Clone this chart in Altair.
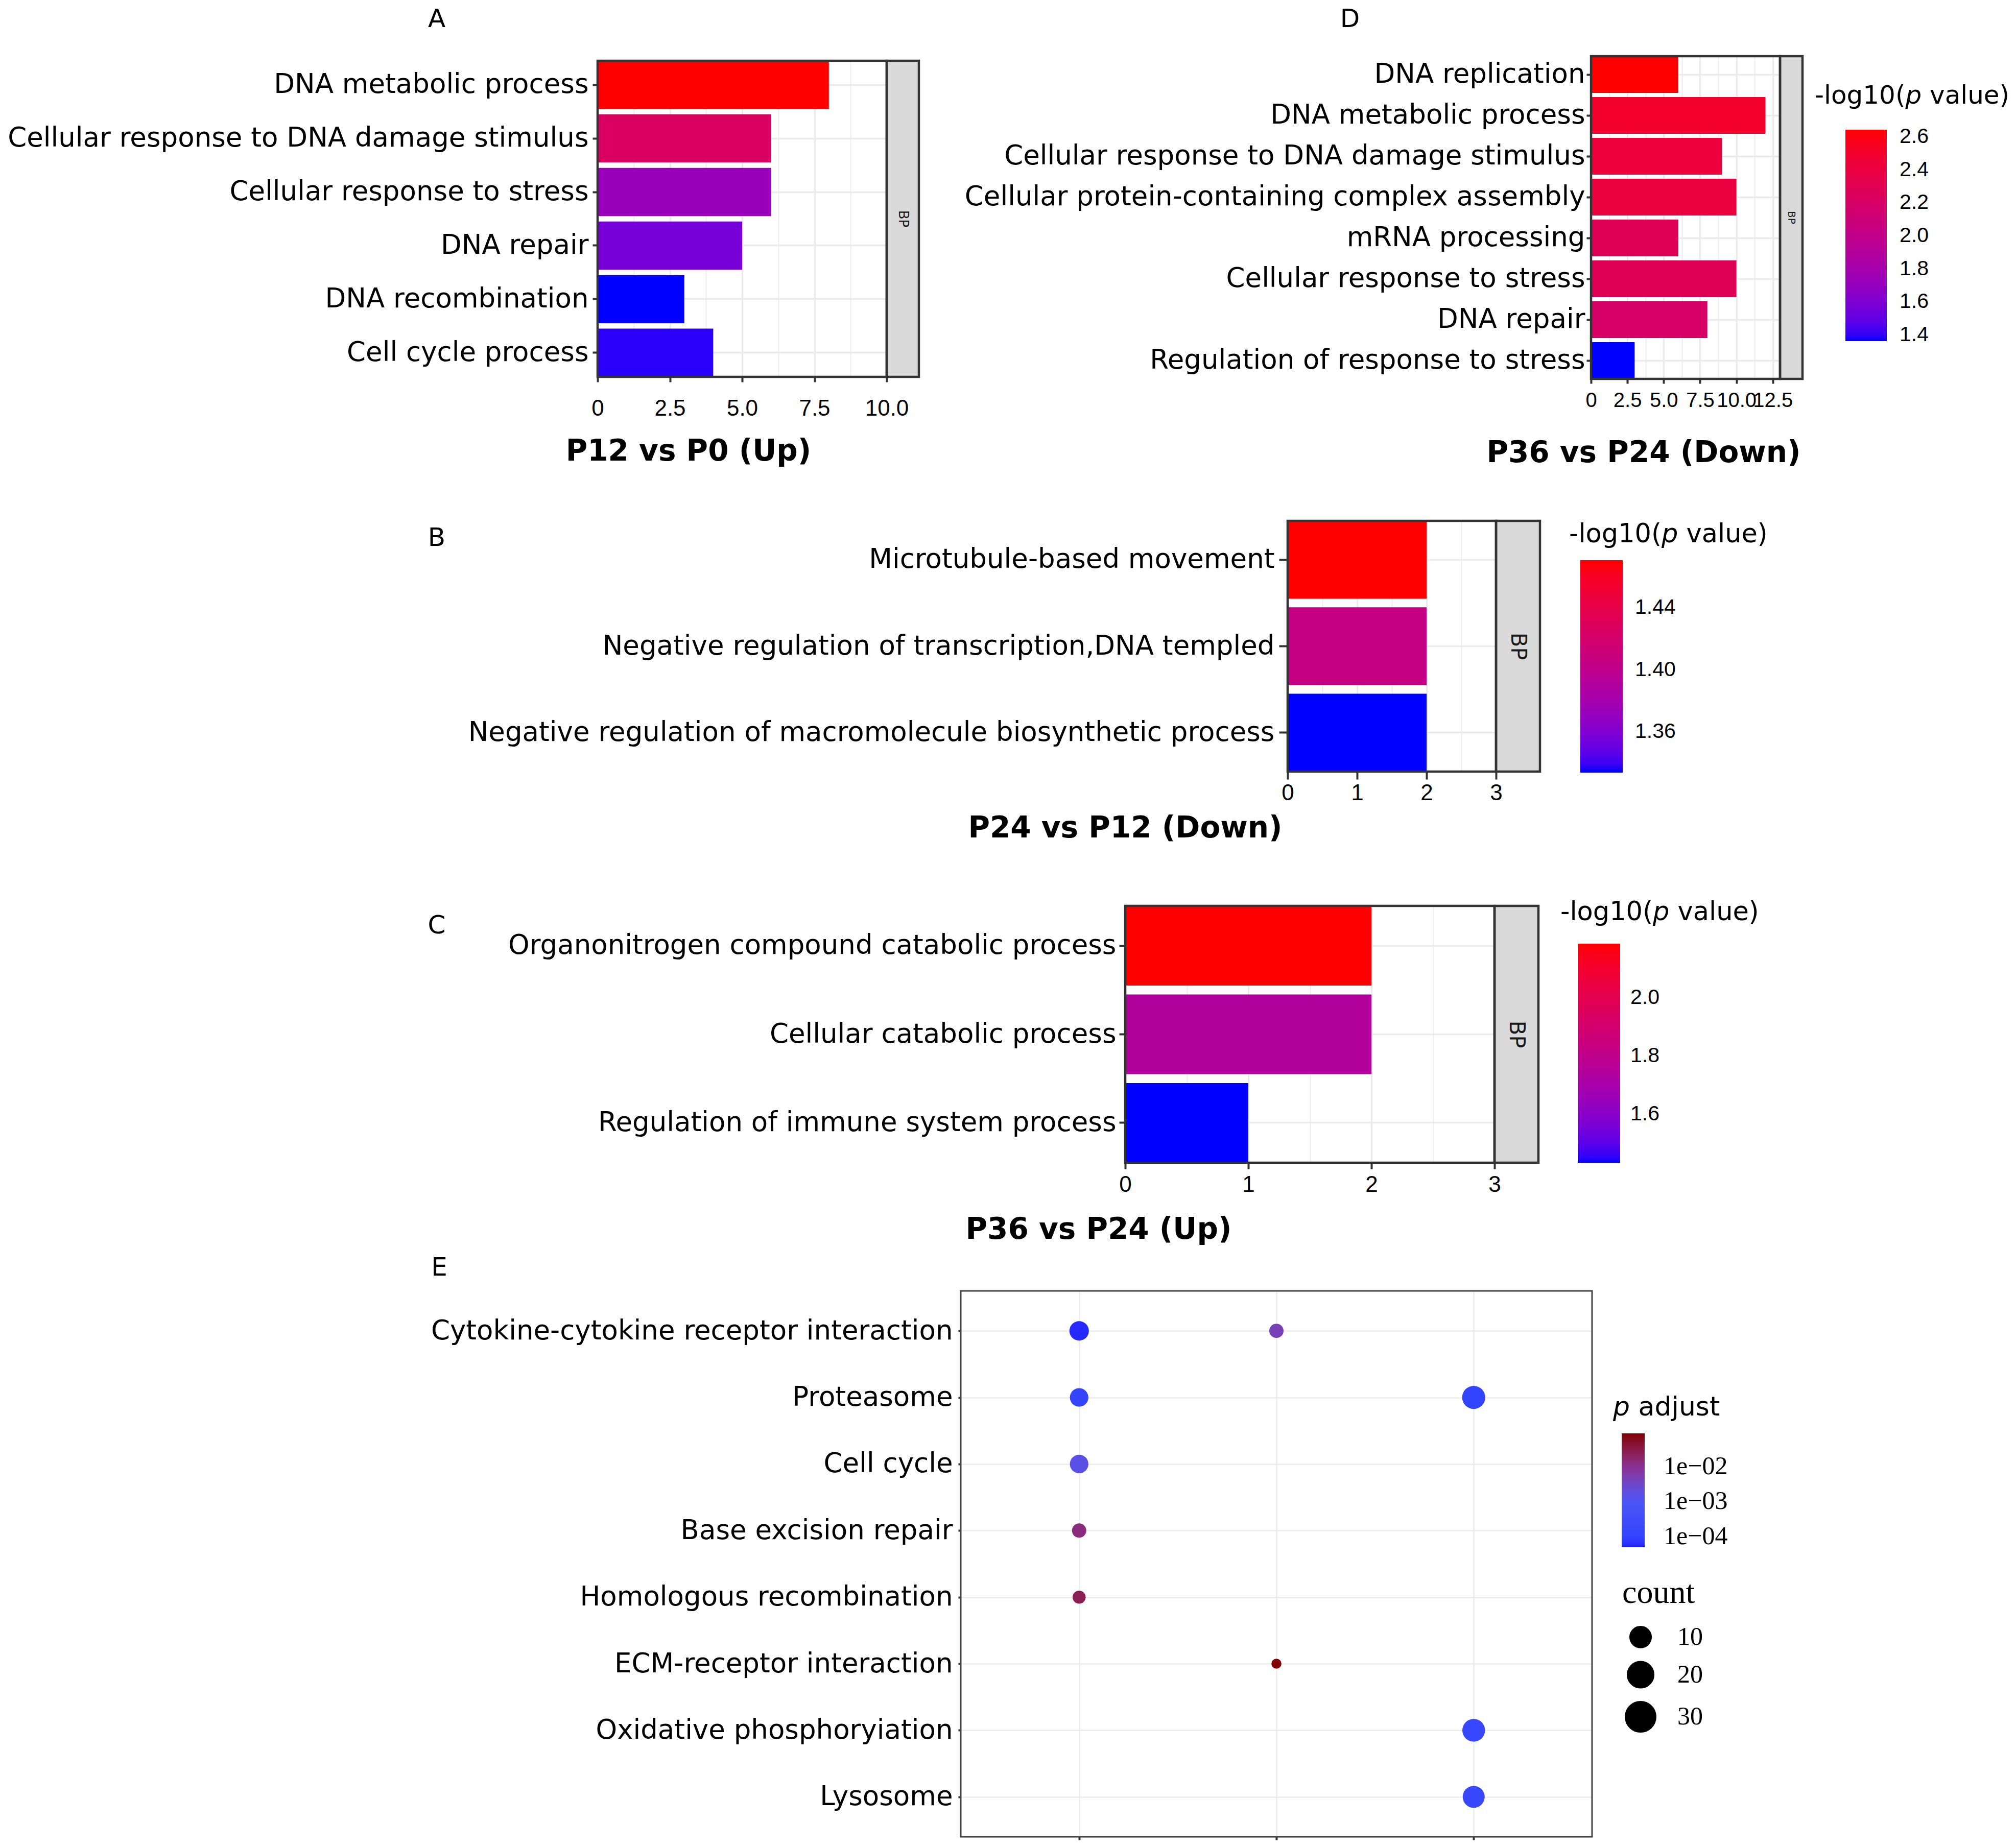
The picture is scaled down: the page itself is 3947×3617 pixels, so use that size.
import altair as alt
import pandas as pd

# ---------------- data ----------------
a_terms = ["DNA metabolic process", "Cellular response to DNA damage stimulus",
           "Cellular response to stress", "DNA repair", "DNA recombination", "Cell cycle process"]
a_count = [8, 6, 6, 5, 3, 4]
a_logp = [3.00, 2.67, 2.29, 2.16, 2.00, 2.02]

d_terms = ["DNA replication", "DNA metabolic process", "Cellular response to DNA damage stimulus",
           "Cellular protein-containing complex assembly", "mRNA processing",
           "Cellular response to stress", "DNA repair", "Regulation of response to stress"]
d_count = [6, 12, 9, 10, 6, 10, 8, 3]
d_logp = [2.643, 2.50, 2.43, 2.41, 2.285, 2.285, 2.19, 1.363]

b_terms = ["Microtubule-based movement\u00a0", "Negative regulation of transcription,DNA templed",
           "Negative regulation of macromolecule biosynthetic process"]
b_count = [2, 2, 2]
b_logp = [1.4706, 1.405, 1.3337]

c_terms = ["Organonitrogen compound catabolic process", "Cellular catabolic process",
           "Regulation of immune system process"]
c_count = [2, 2, 1]
c_logp = [2.186, 1.74, 1.433]

e_terms = ["Cytokine-cytokine receptor interaction", "Proteasome", "Cell cycle",
           "Base excision repair", "Homologous recombination", "ECM-receptor interaction",
           "Oxidative phosphoryiation", "Lysosome"]
e_groups = ["P12 vs P0 (Up)", "P24 vs P12 (Down)", "P36 vs P24 (Up)"]
e_dot_term = ["Cytokine-cytokine receptor interaction", "Proteasome", "Cell cycle",
              "Base excision repair", "Homologous recombination",
              "Cytokine-cytokine receptor interaction", "ECM-receptor interaction",
              "Proteasome", "Oxidative phosphoryiation", "Lysosome"]
e_dot_group = ["P12 vs P0 (Up)"] * 5 + ["P24 vs P12 (Down)"] * 2 + ["P36 vs P24 (Up)"] * 3
e_dot_count = [20, 18, 18, 10, 8, 10, 4, 29, 28, 26]
e_dot_padj = [5.5e-5, 1.2e-4, 1.5e-3, 1.3e-2, 2.5e-2, 4.5e-3, 0.085, 1.0e-4, 1.5e-4, 1.7e-4]

one = pd.DataFrame({"k": [0]})

# DejaVu Sans advance widths (em) for composing rich legend titles
DJV = {" ": 0.318, "-": 0.361, "(": 0.390, ")": 0.390, "0": 0.636, "1": 0.636,
       "a": 0.613, "d": 0.635, "e": 0.615, "g": 0.635, "j": 0.278, "l": 0.278,
       "o": 0.612, "p": 0.635, "s": 0.521, "t": 0.392, "u": 0.634, "v": 0.592}

NUMFONT = "Liberation Sans"


def txt(text, x, y, fs, font="DejaVu Sans", weight="normal", style="normal",
        align="center", baseline="middle", angle=0, color="black"):
    return alt.Chart(one).mark_text(
        text=text, font=font, fontSize=fs, fontWeight=weight, fontStyle=style,
        align=align, baseline=baseline, angle=angle, color=color
    ).encode(x=alt.value(x), y=alt.value(y))


def rich(pieces, x, y, fs):
    layers = []
    cx = x
    for t, it in pieces:
        s = t.strip()
        lead = len(t) - len(t.lstrip())
        cx += lead * DJV[" "] * fs
        layers.append(txt(s, cx, y, fs, style="italic" if it else "normal", align="left"))
        cx += sum(DJV.get(ch, 0.6) for ch in s) * fs
    return layers


def rect(x1, y1, x2, y2, fill, stroke, sw, fo=1.0):
    return alt.Chart(one).mark_rect(fill=fill, stroke=stroke, strokeWidth=sw, fillOpacity=fo).encode(
        x=alt.value(x1), x2=alt.value(x2), y=alt.value(y1), y2=alt.value(y2))


def anchor(x1, y1, x2, y2):
    return alt.Chart(one).mark_rule(opacity=0, strokeWidth=1).encode(
        x=alt.value(x1), x2=alt.value(x2), y=alt.value(y1), y2=alt.value(y2))


def dummy():
    return alt.Chart(one).mark_rule(opacity=0, strokeWidth=1).encode(
        x=alt.value(0), x2=alt.value(1), y=alt.value(0), y2=alt.value(1)
    ).properties(width=1, height=1)


LOGP_TITLE = [("-log10(", False), ("p", True), (" value)", False)]


def bar_panel(terms, counts, logp, W, H, xmax, major, minor, cdom, strip_w, strip_fs,
              ytick, ypad, xtick, xpad, xfs, lab_kind, legend):
    df = pd.DataFrame({"term": terms, "count": counts, "logp": logp})
    n = int(xmax / minor + 1e-9)
    xvals = [round(i * minor, 4) for i in range(n + 1)]
    test = f"abs(datum.value / {major} - round(datum.value / {major})) < 1e-6"
    if lab_kind == "dec":
        lab = f"({test}) ? (datum.value == 0 ? '0' : format(datum.value, '.1f')) : ''"
    else:
        lab = f"({test}) ? format(datum.value, 'd') : ''"
    xaxis = alt.Axis(values=xvals, title=None, grid=True,
                     gridWidth={"condition": {"test": test, "value": 3.5}, "value": 1.8},
                     tickOpacity={"condition": {"test": test, "value": 1}, "value": 0},
                     labelExpr=lab, tickSize=xtick, labelPadding=xpad, labelFontSize=xfs,
                     labelFont=NUMFONT, labelOverlap=False, labelFlush=False)
    yaxis = alt.Axis(title=None, grid=True, gridWidth=3.5, tickSize=ytick, labelPadding=ypad,
                     labelLimit=4000, labelFontSize=53)
    bars = alt.Chart(df).mark_bar().encode(
        x=alt.X("count:Q", scale=alt.Scale(domain=[0, xmax], nice=False, zero=True), axis=xaxis),
        y=alt.Y("term:N", sort=terms, scale=alt.Scale(paddingInner=0.1, paddingOuter=0), axis=yaxis),
        color=alt.Color("logp:Q", scale=alt.Scale(domain=cdom, range=["#0000ff", "#ff0000"],
                                                  interpolate="lab"), legend=legend),
    )
    strip = rect(W, 0, W + strip_w, H, "#D9D9D9", "#333333", 4.5)
    strip_t = txt("BP", W + strip_w / 2, H / 2, strip_fs, angle=90, color="#1a1a1a")
    border = rect(0, 0, W, H, "white", "#333333", 4.5, fo=0.0)
    return [bars, strip, strip_t, border]


def grad_legend(lx, ly, length, thick, values, fmt, offset):
    return alt.Legend(title=None, orient="none", legendX=lx, legendY=ly, direction="vertical",
                      gradientLength=length, gradientThickness=thick, values=values, format=fmt,
                      labelOffset=offset, labelFontSize=41, labelFont=NUMFONT,
                      labelColor="black", padding=0, gradientStrokeWidth=0)


# ---------------- panel A ----------------
WA, HA = 566, 619
A_layers = bar_panel(a_terms, a_count, a_logp, WA, HA, 10, 2.5, 1.25, [2.0, 3.0], 63, 26,
                     10, 8, 10, 30, 44, "dec", None)
A = alt.layer(*A_layers,
              txt("A", -315, -106, 50, baseline="top"),
              txt("P12 vs P0 (Up)", 178, 766, 58, weight="bold"),
              anchor(-1161, -110, 640, 841)).properties(width=WA, height=HA)

# ---------------- panel D ----------------
WD, HD = 370, 632
D_layers = bar_panel(d_terms, d_count, d_logp, WD, HD, 13, 2.5, 1.25, [1.363, 2.643], 44, 20,
                     9, 3, 9, 13, 40, "dec",
                     grad_legend(498, 144, 414, 81, [1.4, 1.6, 1.8, 2.0, 2.2, 2.4, 2.6], ".1f", 25))
D = alt.layer(*D_layers,
              txt("D", -472, -97, 50, baseline="top"),
              txt("P36 vs P24 (Down)", 103, 778, 58, weight="bold"),
              *rich(LOGP_TITLE, 438, 78, 50),
              anchor(-1305, -101, 0, 850)).properties(width=WD, height=HD)

# ---------------- panel B ----------------
WB, HB = 408, 491
B_layers = bar_panel(b_terms, b_count, b_logp, WB, HB, 3, 1, 0.5, [1.3337, 1.4706], 86, 42,
                     17, 9, 15, 5, 44, "int",
                     grad_legend(573, 77, 416, 83, [1.36, 1.40, 1.44], ".2f", 24))
B = alt.layer(*B_layers,
              txt("B", -1666, 34, 50),
              txt("P24 vs P12 (Down)", -318, 603, 58, weight="bold"),
              *rich(LOGP_TITLE, 551, 27, 51),
              anchor(-2512, -60, 0, 680)).properties(width=WB, height=HB)

# ---------------- panel C ----------------
WC, HC = 723, 503
C_layers = bar_panel(c_terms, c_count, c_logp, WC, HC, 3, 1, 0.5, [1.433, 2.186], 86, 42,
                     12, 6, 12, 9, 44, "int",
                     grad_legend(886, 74, 429, 83, [1.6, 1.8, 2.0], ".1f", 20))
C = alt.layer(*C_layers,
              txt("C", -1348, 39, 50),
              txt("P36 vs P24 (Up)", -52, 635, 58, weight="bold"),
              *rich(LOGP_TITLE, 852, 13, 51),
              anchor(-2194, -74, 0, 676)).properties(width=WC, height=HC)

# ---------------- panel E ----------------
WE, HE = 1236, 1069
e_df = pd.DataFrame({"term": e_dot_term, "group": e_dot_group,
                     "count": e_dot_count, "padj": e_dot_padj})
padj_dom = [4.9e-5, 1e-4, 1e-3, 3e-3, 1e-2, 0.089]
padj_rng = ["#2222ff", "#3344ff", "#4a55f5", "#6a48cc", "#8a3090", "#800000"]
dots = alt.Chart(e_df).mark_circle(opacity=1).encode(
    x=alt.X("group:N", sort=e_groups,
            scale=alt.Scale(type="point", padding=0.6, domain=e_groups),
            axis=alt.Axis(title=None, labels=False, grid=True, gridWidth=2.5, tickSize=6)),
    y=alt.Y("term:N", sort=e_terms,
            scale=alt.Scale(type="point", padding=0.6, domain=e_terms),
            axis=alt.Axis(title=None, grid=True, gridWidth=2.5, tickSize=5, labelPadding=11,
                          labelLimit=4000, labelFontSize=53)),
    color=alt.Color("padj:Q",
                    scale=alt.Scale(type="log", domain=padj_dom, range=padj_rng, interpolate="lab"),
                    legend=alt.Legend(title=None, orient="none", legendX=1294, legendY=279,
                                      direction="vertical", gradientLength=223, gradientThickness=45,
                                      values=[1e-4, 1e-3, 1e-2],
                                      labelExpr="datum.value < 0.0003 ? '1e\u221204' : (datum.value < 0.003 ? '1e\u221203' : '1e\u221202')",
                                      labelOffset=37, labelFontSize=50, labelFont="Liberation Serif",
                                      labelColor="black", padding=0, gradientStrokeWidth=0)),
    size=alt.Size("count:Q", scale=alt.Scale(domain=[0, 30], range=[118, 2116]),
                  legend=alt.Legend(title=None, orient="none", legendX=1300, legendY=653,
                                    direction="vertical", values=[10, 20, 30],
                                    symbolType="circle", symbolFillColor="black",
                                    symbolStrokeColor="black", symbolStrokeWidth=16,
                                    symbolOpacity=1, labelOffset=41, labelFontSize=50,
                                    rowPadding=-41,
                                    labelFont="Liberation Serif", labelColor="black", padding=0)),
)
E = alt.layer(dots,
              rect(0, 0, WE, HE, "white", "#444444", 3, fo=0.0),
              txt("E", -1021, -45, 50),
              *rich([("p", True), (" adjust", False)], 1277, 228, 52),
              txt("count", 1295, 592, 64, font="Liberation Serif", align="left"),
              anchor(-1872, -78, 0, 1075)).properties(width=WE, height=HE)


def cc(*items, columns):
    return alt.concat(*items, columns=columns, align="none", spacing=0).resolve_scale(
        color="independent", size="independent").resolve_legend(
        color="independent", size="independent")


colA = cc(dummy(), A, columns=1)
colD = cc(dummy(), D, columns=1)
row1 = cc(dummy(), colA, colD, columns=3)
rowB = cc(dummy(), B, columns=2)
rowC = cc(dummy(), C, columns=2)
rowE = cc(dummy(), E, columns=2)

chart = cc(row1, rowB, rowC, rowE, columns=1).properties(padding=0).configure_view(
    stroke=None
).configure_axis(
    labelFont="DejaVu Sans", labelColor="black", tickColor="#333333", tickWidth=4,
    domain=False, gridColor="#EBEBEB"
).configure_legend(labelColor="black")

chart.save("out.html", embed_options={"renderer": "svg", "actions": False})
